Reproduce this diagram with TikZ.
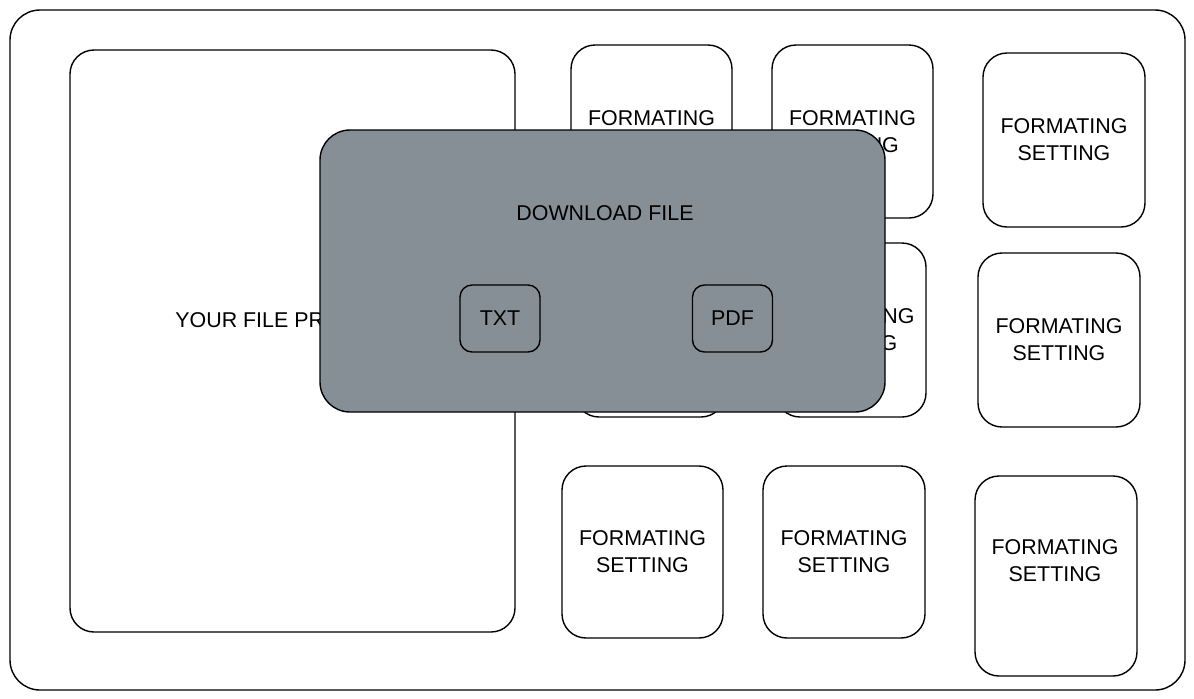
\documentclass[tikz,border=0pt]{standalone}
\usepackage{fontspec}
\setmainfont{Liberation Sans}
\usetikzlibrary{positioning}
\definecolor{dlggray}{RGB}{134,142,150}
\tikzset{
  panel/.style={draw, line width=0.7pt, rounded corners=12pt, fill=white, align=center,
    font=\fontsize{10.7}{13.5}\selectfont},
  setbox/.style={panel, minimum width=80.5pt, minimum height=86.5pt},
  dialog/.style={panel, fill=dlggray, rounded corners=15pt},
  btn/.style={panel, fill=dlggray, rounded corners=6pt, minimum width=40pt, minimum height=33.5pt},
  lbl/.style={font=\fontsize{10.7}{13.5}\selectfont, align=center}
}
\begin{document}
\begin{tikzpicture}[x=0.5pt,y=-0.5pt]
          \useasboundingbox (0,0) rectangle (1194,698);
          \node[panel, rounded corners=15pt, minimum width=587.5pt, minimum height=340pt] (frame) at (597.5,350) {};
          \node[panel, minimum width=222.5pt, minimum height=291pt] (preview) at (292.5,341) {};
          \node[lbl, anchor=west, inner sep=0pt] (previewtxt) at (175,320) {YOUR FILE PREVIEW};
          \node[setbox] (f1) at (651.5,131.5) {FORMATING\\SETTING};
          \node[setbox] (f2) at (852.5,131.5) {FORMATING\\SETTING};
          \node[setbox, minimum width=81pt, minimum height=87pt] (f3) at (1064,140) {FORMATING\\SETTING};
          \node[setbox, minimum width=75pt, minimum height=87pt] (f4) at (650,330) {FORMATING\\SETTING};
          \node[setbox, minimum width=75pt, minimum height=87pt] (f5) at (851,330) {FORMATING\\SETTING};
          \node[setbox, minimum width=81pt, minimum height=87pt] (f6) at (1059,340) {FORMATING\\SETTING};
          \node[setbox, minimum height=86pt] (f7) at (642.5,552) {FORMATING\\SETTING};
          \node[setbox, minimum width=81pt, minimum height=86pt] (f8) at (844,552) {FORMATING\\SETTING};
          \node[setbox, minimum width=81pt, minimum height=100pt] (f9) at (1056,576) {};
          \node[lbl] (f9txt) at (1055,561) {FORMATING\\SETTING};
          \node[dialog, minimum width=282.5pt, minimum height=141pt] (download) at (602.5,271) {};
          \node[lbl] (dltitle) at (605,213) {DOWNLOAD FILE};
          \node[btn] (txt) at (500,318.5) {TXT};
          \node[btn] (pdf) at (732.5,318.5) {PDF};
        \end{tikzpicture}
\end{document}
